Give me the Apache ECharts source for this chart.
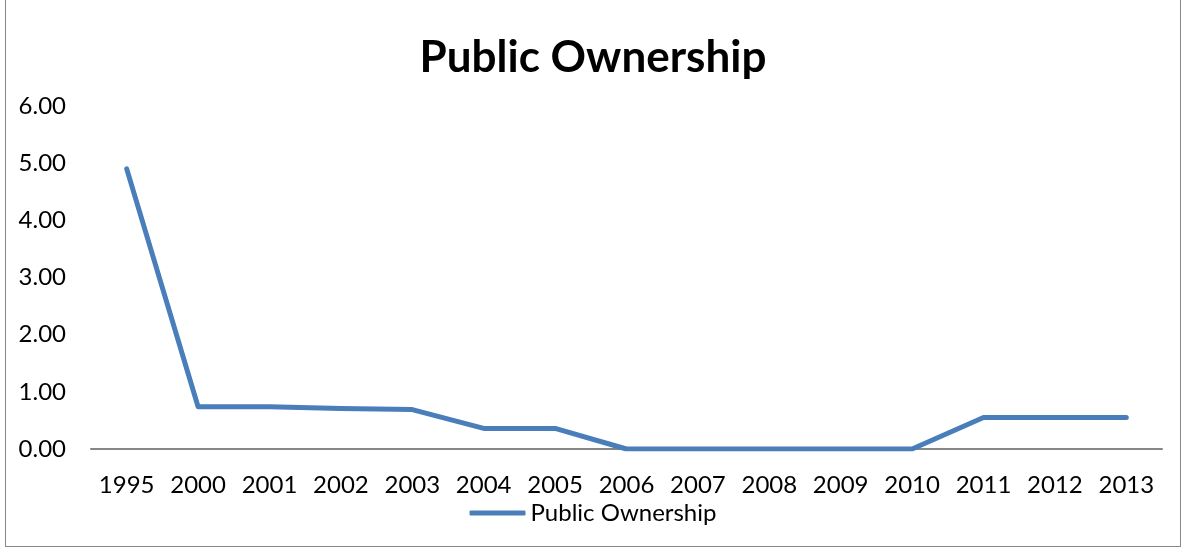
<!DOCTYPE html>
<html>
<head>
<meta charset="utf-8">
<script src="https://cdn.jsdelivr.net/npm/echarts@6/dist/echarts.min.js"></script>
<style>
  html, body { margin: 0; padding: 0; background: #fff; }
  #chart { position: absolute; left: 5px; top: 0; width: 1176px; height: 547px; border: 1px solid #888; border-top: none; box-sizing: border-box; }
</style>
</head>
<body>
<div id="chart"></div>
<script>
// data
const years = ['1995', '2000', '2001', '2002', '2003', '2004', '2005', '2006', '2007', '2008', '2009', '2010', '2011', '2012', '2013']
const publicOwnership = [4.9, 0.74, 0.74, 0.71, 0.69, 0.36, 0.36, 0, 0, 0, 0, 0, 0.55, 0.55, 0.55]
const yTicks = { min: 0, max: 6, interval: 1 }

const font = 'Lato, "Open Sans", sans-serif'
const myChart = echarts.init(document.getElementById('chart'))
myChart.setOption({
  animation: false,
  title: {
    text: 'Public Ownership',
    left: 'center',
    top: 31,
    textStyle: { fontFamily: font, fontSize: 44, fontWeight: 'bold', color: '#000' }
  },
  grid: { left: 85, right: 18, top: 106, bottom: 97 },
  legend: {
    bottom: 16,
    left: 'center',
    itemWidth: 56,
    itemHeight: 5,
    itemGap: 4,
    icon: 'roundRect',
    textStyle: { fontFamily: font, fontSize: 24, color: '#000' },
    data: ['Public Ownership']
  },
  xAxis: {
    type: 'category',
    data: years,
    boundaryGap: true,
    axisLine: { lineStyle: { color: '#868686', width: 2 } },
    axisTick: { show: false },
    axisLabel: { fontFamily: font, fontSize: 24, color: '#000', margin: 24, interval: 0 }
  },
  yAxis: {
    type: 'value',
    min: yTicks.min,
    max: yTicks.max,
    interval: yTicks.interval,
    splitLine: { show: false },
    axisLine: { show: false },
    axisTick: { show: false },
    axisLabel: {
      fontFamily: font, fontSize: 24, color: '#000', margin: 25,
      formatter: v => v.toFixed(2)
    }
  },
  series: [
    {
      name: 'Public Ownership',
      type: 'line',
      data: publicOwnership,
      showSymbol: false,
      symbol: 'none',
      itemStyle: { color: '#4A7EBB' },
      lineStyle: { color: '#4A7EBB', width: 5, cap: 'round', join: 'round' }
    }
  ]
})
</script>
</body>
</html>
